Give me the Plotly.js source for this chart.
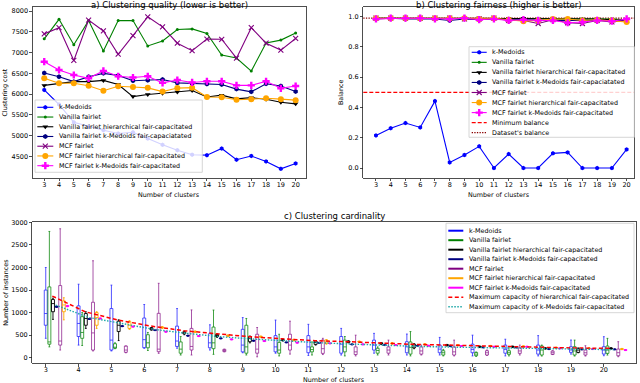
<!DOCTYPE html>
<html><head><meta charset="utf-8">
<script src="https://cdn.plot.ly/plotly-3.0.1.min.js"></script>
<style>html,body{margin:0;padding:0;background:#fff}#chart{width:640px;height:383px}</style>
</head><body><div id="chart"></div>
<script>
// ---------- data ----------
const clusters = [3,4,5,6,7,8,9,10,11,12,13,14,15,16,17,18,19,20];
const namesAB = ['k-Medoids','Vanilla fairlet','Vanilla fairlet hierarchical fair-capacitated','Vanilla fairlet k-Medoids fair-capaciatated','MCF fairlet','MCF fairlet hierarchical fair-capacitated','MCF fairlet k-Medoids fair-capacitated'];
const namesC = ['k-Medoids','Vanilla fairlet','Vanilla fairlet hierarchical fair-capacitated','Vanilla fairlet k-Medoids fair-capacitated','MCF fairlet','MCF fairlet hierarchical fair-capacitated','MCF fairlet k-Medoids fair-capacitated'];
const capNames = ['Maximum capacity of hierarchical fair-capacitated','Maximum capacity of k-Medoids fair-capacitated'];
const balanceNames = ['Minimum balance', "Dataset's balance"];

// a) clustering cost
const costKMedoids   = [6100,5750,5320,5220,5130,5050,5080,4930,4780,4650,4540,4530,4690,4420,4510,4380,4200,4330];
const costVanilla    = [7330,7800,7190,7770,7040,7770,7770,7160,7280,7555,7570,7460,6940,6870,6555,7230,7300,7470];
const costVanillaHier= [6210,6250,6300,6300,6330,6230,5940,5990,6020,6050,6085,5930,5975,5885,5915,5875,5805,5765];
const costVanillaKMed= [6510,6420,6300,6420,6500,6450,6320,6335,6350,6270,6255,6245,6230,6120,6055,6250,6195,6060];
const costMCF        = [7450,7600,6810,7780,7520,6960,7410,7860,7620,7225,7045,7325,7320,6865,7600,7225,7060,7340];
const costMCFHier    = [6380,6260,6260,6200,6080,6190,6170,6150,6060,6145,6155,5930,5925,5865,5878,5900,5878,5855];
const costMCFKMed    = [6780,6580,6460,6380,6560,6430,6400,6430,6270,6340,6280,6310,6310,6210,6210,6310,6140,6195];

// b) balance
const balKMedoids    = [0.215,0.263,0.297,0.268,0.442,0.037,0.086,0.143,0.0,0.092,0.0,0.0,0.097,0.103,0.0,0.0,0.0,0.123];
const balVanilla     = [0.99,0.99,0.99,0.99,0.99,0.985,0.99,0.985,0.985,0.99,0.985,0.985,0.985,0.985,0.985,0.985,0.985,0.98];
const balVanillaHier = [0.99,0.99,0.99,0.99,0.99,0.99,0.99,0.985,0.99,0.99,0.99,0.985,0.985,0.985,0.985,0.985,0.98,0.975];
const balVanillaKMed = [0.985,0.99,0.985,0.985,0.985,0.975,0.985,0.98,0.985,0.98,0.98,0.975,0.975,0.975,0.975,0.975,0.97,0.975];
const balMCF         = [0.99,0.99,0.99,0.99,0.99,0.99,0.985,0.985,0.99,0.975,0.975,0.955,0.98,0.96,0.955,0.975,0.965,0.975];
const balMCFHier     = [0.99,0.99,0.99,0.99,0.99,0.99,0.99,0.985,0.99,0.98,0.97,0.975,0.985,0.985,0.975,0.98,0.975,0.965];
const balMCFKMed     = [0.985,0.99,0.99,0.99,0.985,0.985,0.99,0.98,0.985,0.975,0.98,0.975,0.975,0.96,0.965,0.975,0.97,0.985];
const minBalance = 0.5;
const datasetBalance = 0.991;

// c) cardinality: per cluster count [lower whisker, q1, median, q3, upper whisker]
const cardKMedoids = [[430,720,980,1500,2000],[280,470,760,1150,1630],[150,170,390,1090,1610],[210,222,400,880,1180],[210,250,370,700,1090],[170,220,330,530,730],[110,130,280,630,890],[100,130,240,490,835],[50,110,240,490,740],[60,100,300,470,650],[100,170,280,390,540],[60,110,240,355,525],[60,110,190,280,450],[40,110,185,300,500],[40,100,185,280,410],[40,80,170,280,490],[80,118,170,244,392],[44,81,170,244,466]];
const cardVanilla = [[240,300,350,1570,2800],[270,430,560,910,1000],[200,210,230,310,330],[160,220,330,510,560],[60,100,190,350,470],[75,200,330,680,1057],[60,100,240,720,870],[40,100,170,340,520],[60,130,180,240,350],[40,130,240,390,470],[60,100,160,210,240],[40,80,230,350,580],[40,60,110,155,185],[30,44,80,118,125],[40,74,110,155,244],[37,60,170,260,280],[37,60,150,244,390],[59,96,170,259,429]];
const cardVanillaHier = [[850,1020,1200,1290,1320],[650,720,870,980,1020],[380,580,720,810,840],[610,620,645,665,670],[510,530,555,575,590],[450,470,495,515,530],[330,355,430,466,480],[370,380,390,400,410],[280,296,340,370,380],[330,340,355,370,375],[295,305,318,330,335],[200,220,260,300,310],[260,270,281,290,295],[225,235,244,252,258],[225,235,244,252,258],[190,200,207,215,220],[110,118,170,207,215],[190,200,207,215,220]];
const cardVanillaKMed = [[1115,1122,1130,1138,1145],[848,854,860,866,872],[688,694,700,706,712],[601,607,613,619,625],[476,482,488,494,500],[417,423,429,435,441],[365,371,377,383,389],[328,334,340,346,352],[318,324,330,336,342],[284,290,296,302,308],[269,275,281,287,293],[254,260,266,272,278],[247,253,259,265,271],[217,223,229,235,241],[217,223,229,235,241],[180,186,192,198,204],[173,179,185,191,197],[173,179,185,191,197]];
const cardMCF = [[170,280,370,1600,2860],[150,170,550,1230,2150],[110,120,170,260,260],[97,133,190,984,1650],[60,170,250,650,1060],[130,135,160,185,190],[20,100,190,520,670],[80,170,280,520,810],[70,96,200,392,430],[40,70,130,240,500],[60,100,170,240,390],[60,80,150,240,280],[40,60,130,240,390],[50,60,110,155,170],[60,96,150,220,280],[70,74,110,148,155],[37,59,110,170,266],[22,44,111,192,355]];
const cardMCFHier = [[840,1020,1170,1260,1330],[650,720,890,1000,1020],[630,650,720,800,820],[650,660,670,680,690],[560,566,576,586,592],[470,478,488,498,505],[450,458,466,474,480],[375,383,392,400,408],[300,318,350,392,400],[340,348,355,362,370],[300,310,318,326,335],[280,288,296,304,312],[260,267,274,281,288],[245,252,259,266,273],[236,244,251,258,265],[208,215,222,229,236],[193,200,207,214,221],[178,185,192,199,206]];
const cardMCFKMed = [[1130,1138,1145,1152,1160],[858,864,870,876,882],[678,684,690,696,702],[564,570,576,582,588],[468,474,480,486,492],[394,400,406,412,418],[358,364,370,376,382],[321,327,333,339,345],[306,312,318,324,330],[284,290,296,302,308],[269,275,281,287,293],[254,260,266,272,278],[247,253,259,265,271],[232,238,244,250,256],[232,238,244,250,256],[195,201,207,213,219],[180,186,192,198,204],[158,164,170,176,182]];
const capHier  = [1367,1020,835,702,599,525,466,421,377,355,318,296,281,259,244,229,214,207];
const capKMed  = [1168,894,761,628,539,466,414,370,333,303,273,251,236,222,207,200,185,178];

// ---------- styling ----------
const W = 640, H = 383;
const X = p => p / W, Y = p => 1 - p / H;
const FONT = 'DejaVu Sans';
const styles = [
  {color:'#0000ff', box:'rgba(40,40,255,0.8)', symbol:'hexagon', size:4.5},
  {color:'#008000', box:'rgba(20,140,20,0.8)', symbol:'circle', size:3},
  {color:'#000000', box:'rgba(0,0,0,0.9)', symbol:'triangle-down', size:5},
  {color:'#000080', box:'rgba(0,0,128,0.9)', symbol:'hexagon', size:5},
  {color:'#800080', box:'rgba(140,30,140,0.75)', symbol:'x-thin-open', size:5},
  {color:'#ffa500', box:'rgba(255,165,0,0.9)', symbol:'circle', size:6},
  {color:'#ff00ff', box:'rgba(255,0,255,0.9)', symbol:'cross', size:6}
];
const costSeries = [costKMedoids,costVanilla,costVanillaHier,costVanillaKMed,costMCF,costMCFHier,costMCFKMed];
const balSeries = [balKMedoids,balVanilla,balVanillaHier,balVanillaKMed,balMCF,balMCFHier,balMCFKMed];
const cardSeries = [cardKMedoids,cardVanilla,cardVanillaHier,cardVanillaKMed,cardMCF,cardMCFHier,cardMCFKMed];
const boxOffsets = [0,0.11,0.22,0.33,0.44,0.55,0.66];

function markerOf(s){
  const isX = s.symbol.indexOf('x') === 0;
  return {symbol:s.symbol, size:s.size, color:s.color, line:{color:s.color, width: isX ? 1.1 : 0}};
}

const traces = [];
// a
costSeries.forEach((ys,i)=>{
  traces.push({type:'scatter', mode:'lines+markers', x:clusters, y:ys, xaxis:'x', yaxis:'y',
    line:{color:styles[i].color, width:1.1}, marker:markerOf(styles[i]), hoverinfo:'skip'});
});
// b
balSeries.forEach((ys,i)=>{
  traces.push({type:'scatter', mode:'lines+markers', x:clusters, y:ys, xaxis:'x2', yaxis:'y2',
    line:{color:styles[i].color, width:1.1}, marker:markerOf(styles[i]), hoverinfo:'skip'});
});
// c boxes
cardSeries.forEach((rows,i)=>{
  traces.push({type:'box', xaxis:'x3', yaxis:'y3',
    x: clusters.map(k=>k+boxOffsets[i]),
    lowerfence: rows.map(r=>r[0]), q1: rows.map(r=>r[1]), median: rows.map(r=>r[2]),
    q3: rows.map(r=>r[3]), upperfence: rows.map(r=>r[4]),
    width:0.09, whiskerwidth:0.6, boxpoints:false,
    line:{color:styles[i].box, width:1}, fillcolor:'rgba(0,0,0,0)', hoverinfo:'skip'});
});
// c capacity lines
traces.push({type:'scatter', mode:'lines', x:clusters.map(k=>k+0.2), y:capHier, xaxis:'x3', yaxis:'y3',
  line:{color:'#ff0000', width:1.5, dash:'4px,2.5px'}, hoverinfo:'skip'});
traces.push({type:'scatter', mode:'lines', x:clusters.map(k=>k+0.3), y:capKMed, xaxis:'x3', yaxis:'y3',
  line:{color:'#1fa8a8', width:1.4, dash:'1.5px,1.5px'}, hoverinfo:'skip'});

// ---------- manual legends (pixel overlay axis x4/y4) ----------
const annotations = [];
function legend(box, entries, lx0, lx1, tx, y0, dy){
  traces.push({type:'scatter', mode:'lines', xaxis:'x4', yaxis:'y4',
    x:[box[0],box[1],box[1],box[0],box[0]], y:[box[2],box[2],box[3],box[3],box[2]],
    fill:'toself', fillcolor:'rgba(255,255,255,0.82)', line:{color:'#cccccc', width:0.8}, hoverinfo:'skip'});
  entries.forEach((e,j)=>{
    const y = y0 + j*dy;
    traces.push({type:'scatter', mode:'lines', xaxis:'x4', yaxis:'y4', x:[lx0,lx1], y:[y,y],
      line:{color:e.color, width:e.width||1.1, dash:e.dash||'solid'}, hoverinfo:'skip'});
    if(e.marker){
      traces.push({type:'scatter', mode:'markers', xaxis:'x4', yaxis:'y4', x:[(lx0+lx1)/2], y:[y],
        marker:markerOf(e.marker), hoverinfo:'skip'});
    }
    annotations.push({xref:'x4', yref:'y4', x:tx, y:y, text:e.name, showarrow:false,
      xanchor:'left', yanchor:'middle', font:{family:FONT, size:6.4, color:'#000'}});
  });
}
legend([35,202.3,100,172.3], namesAB.map((n,i)=>({name:n, color:styles[i].color, marker:styles[i]})),
  37.3, 53.3, 56.5, 107.3, 9.73);
legend([469,634.3,46.7,137.3],
  namesAB.map((n,i)=>({name:n, color:styles[i].color, marker:styles[i]})).concat([
    {name:balanceNames[0], color:'#ff0000', dash:'4px,2px', width:1.2},
    {name:balanceNames[1], color:'#8b0000', dash:'1.3px,1.3px', width:1.2}]),
  471.7, 486.7, 489.5, 52.3, 10.05);
legend([446,634,223.3,312.7],
  namesC.map((n,i)=>({name:n, color:styles[i].color, width:2})).concat([
    {name:capNames[0], color:'#ff0000', dash:'4px,2.5px', width:1.5},
    {name:capNames[1], color:'#1fa8a8', dash:'1.5px,1.5px', width:1.5}]),
  448.3, 463.3, 467.2, 230.7, 9.5);

// titles & axis labels
function txt(x,y,t,size,angle){
  annotations.push({xref:'paper', yref:'paper', x:X(x), y:Y(y), text:t, showarrow:false,
    xanchor:'center', yanchor:'middle', textangle:angle||0, font:{family:FONT, size:size, color:'#000'}});
}
txt(169.2, 4.5, 'a) Clustering quality (lower is better)', 8.5);
txt(498.8, 4.5, 'b) Clustering fairness (higher is better)', 8.5);
txt(334.2, 216, 'c) Clustering cardinality', 8.5);
txt(169.2, 194.5, 'Number of clusters', 6.4);
txt(498.8, 194.5, 'Number of clusters', 6.4);
txt(334.2, 379.5, 'Number of clusters', 6.4);
txt(5, 92.6, 'Clustering cost', 6.4, -90);
txt(340.5, 92.6, 'Balance', 6.4, -90);
txt(6, 292.8, 'Number of instances', 6.4, -90);

const ax = (o)=>Object.assign({showgrid:false, zeroline:false, showline:true, mirror:true, linecolor:'#222', linewidth:0.8,
  ticks:'outside', ticklen:2.5, tickwidth:0.8, tickcolor:'#222', ticklabelstandoff:-2,
  tickfont:{family:FONT, size:6.5, color:'#000'}, fixedrange:true}, o);

const layout = {
  width:W, height:H, margin:{l:0,r:0,t:0,b:0}, showlegend:false,
  paper_bgcolor:'#ffffff', plot_bgcolor:'rgba(0,0,0,0)', font:{family:FONT},
  boxmode:'overlay',
  xaxis: ax({domain:[X(32.7),X(305.7)], range:[2.22,20.68], tickvals:clusters, anchor:'y'}),
  yaxis: ax({domain:[Y(178),Y(7.3)], range:[3980,8090], tickvals:[4500,5000,5500,6000,6500,7000,7500,8000], anchor:'x', ticklabelstandoff:0}),
  xaxis2: ax({domain:[X(363.3),X(634.3)], range:[2.14,20.52], tickvals:clusters, anchor:'y2'}),
  yaxis2: ax({domain:[Y(178),Y(7.3)], range:[-0.066,1.062], tickvals:[0,0.2,0.4,0.6,0.8,1.0], tickformat:'.1f', anchor:'x2', ticklabelstandoff:0}),
  xaxis3: ax({domain:[X(32.3),X(636)], range:[2.59,20.98], tickvals:clusters, anchor:'y3'}),
  yaxis3: ax({domain:[Y(363.3),Y(222.3)], range:[-124,3003], tickvals:[0,500,1000,1500,2000,2500,3000], anchor:'x3', ticklabelstandoff:0}),
  xaxis4: {domain:[0,1], range:[0,W], visible:false, fixedrange:true, anchor:'y4'},
  yaxis4: {domain:[0,1], range:[H,0], visible:false, fixedrange:true, anchor:'x4'},
  shapes:[
    {type:'line', xref:'x2 domain', yref:'y2', x0:0, x1:1, y0:minBalance, y1:minBalance, layer:'below',
      line:{color:'#ff0000', width:1.2, dash:'4px,2px'}},
    {type:'line', xref:'x2 domain', yref:'y2', x0:0, x1:1, y0:datasetBalance, y1:datasetBalance, layer:'below',
      line:{color:'#8b0000', width:1.2, dash:'1.3px,1.3px'}}
  ],
  annotations: annotations
};
Plotly.newPlot('chart', traces, layout, {staticPlot:true, displayModeBar:false});
</script>
</body></html>
